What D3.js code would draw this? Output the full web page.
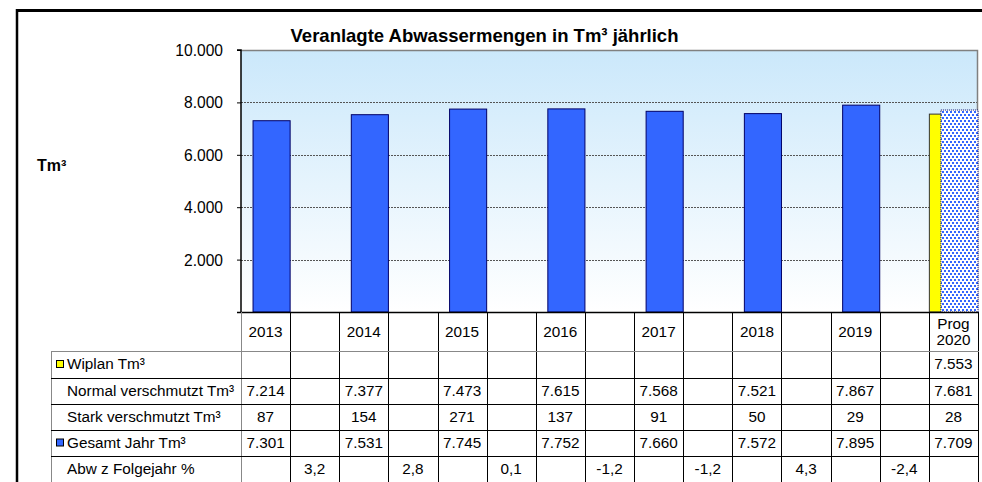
<!DOCTYPE html>
<html><head><meta charset="utf-8">
<script src="https://cdn.jsdelivr.net/npm/d3@7/dist/d3.min.js"></script>
<style>body{margin:0;background:#fff}svg{display:block;font-family:Arial,"Liberation Sans",sans-serif}</style>
</head><body><svg id="c" width="982" height="482"></svg>
<script>
const columns = ["2013","","2014","","2015","","2016","","2017","","2018","","2019","","Prog\n2020"];
const wiplan  = [null,null,null,null,null,null,null,null,null,null,null,null,null,null,7553];
const normal  = [7214,null,7377,null,7473,null,7615,null,7568,null,7521,null,7867,null,7681];
const stark   = [87,null,154,null,271,null,137,null,91,null,50,null,29,null,28];
const gesamt  = [7301,null,7531,null,7745,null,7752,null,7660,null,7572,null,7895,null,7709];
const abw     = [null,3.2,null,2.8,null,0.1,null,-1.2,null,-1.2,null,4.3,null,-2.4,null];
const yTicks  = [0,2000,4000,6000,8000,10000];
const title = "Veranlagte Abwassermengen in Tm³ jährlich";
const rowLabels = ["Wiplan Tm³","Normal verschmutzt Tm³","Stark verschmutzt Tm³","Gesamt Jahr Tm³","Abw z Folgejahr %"];

const loc = d3.formatLocale({decimal:",",thousands:".",grouping:[3],currency:["","€"],minus:"-"});
const fInt = loc.format(",d");
const fDec = loc.format(".1f");
const FS = 15.3;

const svg = d3.select("#c");
const L=241, R=978, T=50, B=312;
const x = d3.scaleBand().domain(d3.range(columns.length)).range([L,R]).padding(0);
const y = d3.scaleLinear().domain([0,10000]).range([B,T]);
const bw = x.bandwidth();

const defs = svg.append("defs");
const g = defs.append("linearGradient").attr("id","bg").attr("x1",0).attr("y1",0).attr("x2",0).attr("y2",1);
g.append("stop").attr("offset","0%").attr("stop-color","#cbe8fb");
g.append("stop").attr("offset","100%").attr("stop-color","#ffffff");
const pat = defs.append("pattern").attr("id","dots").attr("patternUnits","userSpaceOnUse").attr("width",4).attr("height",6);
pat.append("rect").attr("width",4).attr("height",6).attr("fill","#ffffff");
pat.append("rect").attr("x",0).attr("y",0).attr("width",2).attr("height",2).attr("fill","#3366ff");
pat.append("rect").attr("x",2).attr("y",3).attr("width",2).attr("height",2).attr("fill","#3366ff");

// outer frame
svg.append("line").attr("x1",16).attr("x2",982).attr("y1",10.5).attr("y2",10.5).attr("stroke","#000").attr("stroke-width",3);
svg.append("line").attr("x1",17).attr("x2",17).attr("y1",9).attr("y2",482).attr("stroke","#000").attr("stroke-width",2.5);

// plot background
svg.append("rect").attr("x",L).attr("y",T).attr("width",R-L).attr("height",B-T).attr("fill","url(#bg)");
// gridlines
svg.append("g").selectAll("line").data(yTicks.filter(d=>d>0&&d<10000)).join("line")
  .attr("x1",L).attr("x2",R).attr("y1",d=>Math.round(y(d))+0.5).attr("y2",d=>Math.round(y(d))+0.5)
  .attr("stroke","#555").attr("stroke-width",1).attr("stroke-dasharray","2,1");
// plot border top/right
svg.append("path").attr("d",`M${L},${T+0.5}H${R-0.5}V${B}`).attr("fill","none").attr("stroke","#808080").attr("stroke-width",1.5);

// bars
const idx = d3.range(columns.length);
svg.append("g").selectAll("rect").data(idx.filter(i=>wiplan[i]!=null)).join("rect")
  .attr("x",i=>x(i)+0.5).attr("width",bw*0.76).attr("y",i=>y(wiplan[i])).attr("height",i=>B-y(wiplan[i]))
  .attr("fill","#ffff00").attr("stroke","#333").attr("stroke-width",1);
svg.append("g").selectAll("rect").data(idx.filter(i=>gesamt[i]!=null)).join("rect")
  .attr("x",i=>x(i)+bw*0.245).attr("width",bw*0.755).attr("y",i=>y(gesamt[i])).attr("height",i=>B-y(gesamt[i]))
  .attr("fill",i=>i===columns.length-1?"url(#dots)":"#3366ff")
  .attr("stroke","#000066").attr("stroke-width",1)
  .attr("stroke-dasharray",i=>i===columns.length-1?"1,1":null);

// y axis
const yAxis = d3.axisLeft(y).tickValues(yTicks).tickSize(4).tickFormat(d=>d===0?"":fInt(d));
const ya = svg.append("g").attr("transform",`translate(${L},0)`).call(yAxis);
ya.select(".domain").attr("stroke","#000").attr("stroke-width",1.5).attr("d",`M-4,${T}H0V${B}`);
ya.selectAll(".tick line").attr("stroke","#000");
ya.selectAll(".tick text").attr("font-size",FS+0.3).attr("font-family","Arial, 'Liberation Sans', sans-serif").attr("fill","#000").attr("x",-18).attr("dy","0.35em");

// axis bottom line
svg.append("line").attr("x1",L-4).attr("x2",R).attr("y1",B+0.5).attr("y2",B+0.5).attr("stroke","#000").attr("stroke-width",1.5);

// title
svg.append("text").attr("x",484.5).attr("y",42).attr("text-anchor","middle").attr("font-weight","bold").attr("font-size",18.5).text(title);
svg.append("text").attr("x",37).attr("y",171).attr("font-weight","bold").attr("font-size",16).text("Tm³");

// table
const rowTop = [351,377.5,403.5,429.5,455.5,481.5];
const tab = svg.append("g");
idx.forEach(i=>{
  const lines = columns[i].split("\n");
  const t = tab.append("text").attr("text-anchor","middle").attr("font-size",FS).attr("x",x(i)+bw/2);
  if(lines.length===1){ t.attr("y",337).text(lines[0]); }
  else { lines.forEach((s,k)=>t.append("tspan").attr("x",x(i)+bw/2).attr("y",329+k*16).text(s)); }
});
idx.concat([columns.length]).forEach(i=>{
  const xx = (i===columns.length? R : x(i));
  tab.append("line").attr("x1",Math.round(xx)+0.5).attr("x2",Math.round(xx)+0.5).attr("y1",B).attr("y2",482)
    .attr("stroke", i===0 ? "#888" : "#000").attr("stroke-width",1);
});
tab.append("line").attr("x1",51.5).attr("x2",51.5).attr("y1",351).attr("y2",482).attr("stroke","#888");
rowTop.forEach((yy,k)=>{
  tab.append("line").attr("x1",51).attr("x2",R+1).attr("y1",Math.round(yy)+0.5).attr("y2",Math.round(yy)+0.5)
    .attr("stroke",k===0?"#888":"#000").attr("stroke-width",1);
});
const rows = [wiplan,normal,stark,gesamt,abw];
const keyColor = ["#ffff00",null,null,"#3366ff",null];
rows.forEach((arr,k)=>{
  const cy = rowTop[k]+13;
  tab.append("text").attr("x",67).attr("y",cy+5).attr("font-size",FS).text(rowLabels[k]);
  if(keyColor[k]) tab.append("rect").attr("x",56.5).attr("y",cy-3.5).attr("width",7).attr("height",7).attr("fill",keyColor[k]).attr("stroke","#000").attr("stroke-width",1);
  idx.forEach(i=>{
    if(arr[i]==null) return;
    tab.append("text").attr("x",x(i)+bw/2).attr("y",cy+5).attr("text-anchor","middle").attr("font-size",FS)
      .text(k===4? fDec(arr[i]) : fInt(arr[i]));
  });
});
</script></body></html>
